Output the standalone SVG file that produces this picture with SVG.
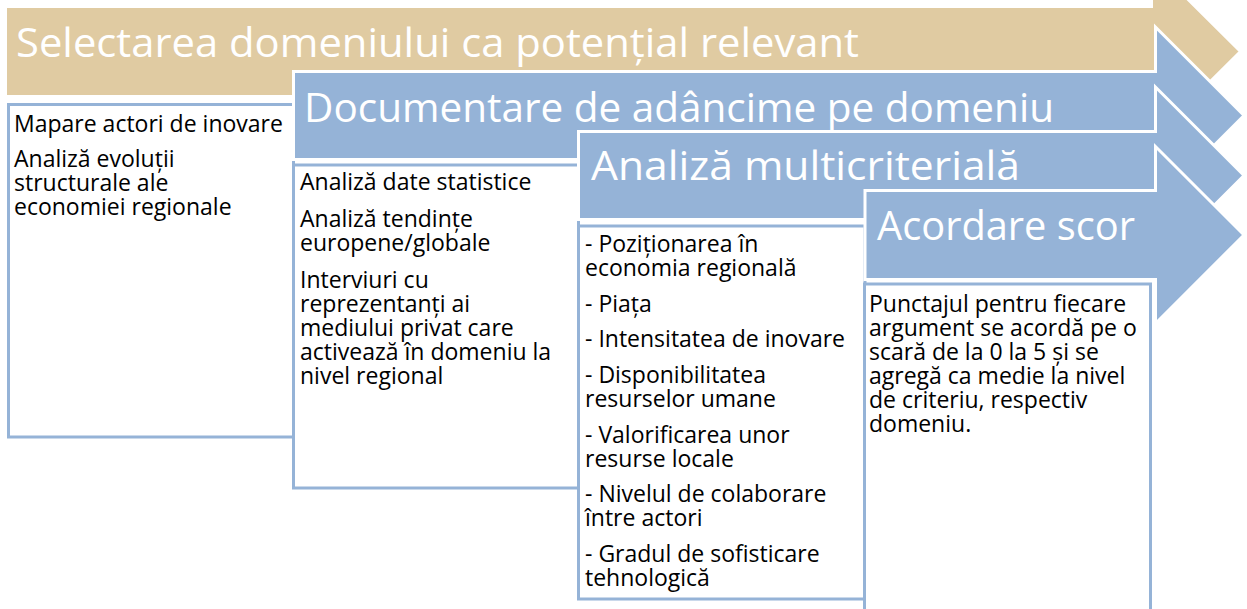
<svg xmlns="http://www.w3.org/2000/svg" width="1247" height="609" viewBox="0 0 1247 609">
<style>
.tan{fill:#E0CBA2;stroke:#FFFFFF;stroke-width:3;stroke-linejoin:miter;stroke-miterlimit:10}
.arr{fill:#95B3D7;stroke:#FFFFFF;stroke-width:3;stroke-linejoin:miter;stroke-miterlimit:10}
.box{fill:#FFFFFF;stroke:#95B3D7;stroke-width:3}
.ttl{font-family:"Open Sans","Noto Sans","DejaVu Sans",sans-serif;font-size:41px;fill:#FFFFFF}
.txt{font-family:"Open Sans","Noto Sans","DejaVu Sans",sans-serif;font-size:23px;fill:#000000}
</style>
<rect width="1247" height="609" fill="#FFFFFF"/>
<g id="step1">
<polygon class="tan" points="5.5,6.5 1151.5,6.5 1151.5,-37 1240.5,51.5 1151.5,140 1151.5,96.5 5.5,96.5"/>
<text class="ttl" x="16" y="57" textLength="843" lengthAdjust="spacingAndGlyphs">Selectarea domeniului ca potențial relevant</text>
</g>
<g id="box1">
<rect class="box" x="8.5" y="104.5" width="285" height="332.5"/>
<text class="txt" x="14" y="132">Mapare actori de inovare</text>
<text class="txt" x="14" y="167">Analiză evoluții</text>
<text class="txt" x="14" y="191">structurale ale</text>
<text class="txt" x="14" y="215">economiei regionale</text>
</g>
<g id="step2">
<polygon class="arr" points="293.5,71.5 1155.5,71.5 1155.5,27 1244,115.5 1155.5,204 1155.5,159.5 293.5,159.5"/>
<text class="ttl" x="304" y="122" textLength="750" lengthAdjust="spacingAndGlyphs">Documentare de adâncime pe domeniu</text>
</g>
<g id="box2">
<rect class="box" x="293.5" y="165" width="285" height="323"/>
<text class="txt" x="300" y="190">Analiză date statistice</text>
<text class="txt" x="300" y="227">Analiză tendințe</text>
<text class="txt" x="300" y="251">europene/globale</text>
<text class="txt" x="300" y="288">Interviuri cu</text>
<text class="txt" x="300" y="312">reprezentanți ai</text>
<text class="txt" x="300" y="336">mediului privat care</text>
<text class="txt" x="300" y="360">activează în domeniu la</text>
<text class="txt" x="300" y="384">nivel regional</text>
</g>
<g id="step3">
<polygon class="arr" points="578.5,131.5 1155.5,131.5 1155.5,87 1244,175.5 1155.5,264 1155.5,219.5 578.5,219.5"/>
<text class="ttl" x="591" y="180" textLength="429" lengthAdjust="spacingAndGlyphs">Analiză multicriterială</text>
</g>
<g id="box3">
<rect class="box" x="578.5" y="226" width="286.5" height="373"/>
<text class="txt" x="585" y="252">- Poziționarea în</text>
<text class="txt" x="585" y="276">economia regională</text>
<text class="txt" x="585" y="312">- Piața</text>
<text class="txt" x="585" y="347">- Intensitatea de inovare</text>
<text class="txt" x="585" y="383">- Disponibilitatea</text>
<text class="txt" x="585" y="407">resurselor umane</text>
<text class="txt" x="585" y="443">- Valorificarea unor</text>
<text class="txt" x="585" y="467">resurse locale</text>
<text class="txt" x="585" y="502">- Nivelul de colaborare</text>
<text class="txt" x="585" y="526">între actori</text>
<text class="txt" x="585" y="562">- Gradul de sofisticare</text>
<text class="txt" x="585" y="586">tehnologică</text>
</g>
<g id="step4">
<polygon class="arr" points="865,190.5 1155.5,190.5 1155.5,146.5 1244,235 1155.5,323.5 1155.5,279.5 865,279.5"/>
<text class="ttl" x="877" y="240" textLength="258" lengthAdjust="spacingAndGlyphs">Acordare scor</text>
</g>
<g id="box4">
<rect class="box" x="864.5" y="284" width="286" height="340"/>
<text class="txt" x="869" y="312">Punctajul pentru fiecare</text>
<text class="txt" x="869" y="336">argument se acordă pe o</text>
<text class="txt" x="869" y="360">scară de la 0 la 5 și se</text>
<text class="txt" x="869" y="384">agregă ca medie la nivel</text>
<text class="txt" x="869" y="408">de criteriu, respectiv</text>
<text class="txt" x="869" y="432">domeniu.</text>
</g>
<g id="connectors"></g>
</svg>
